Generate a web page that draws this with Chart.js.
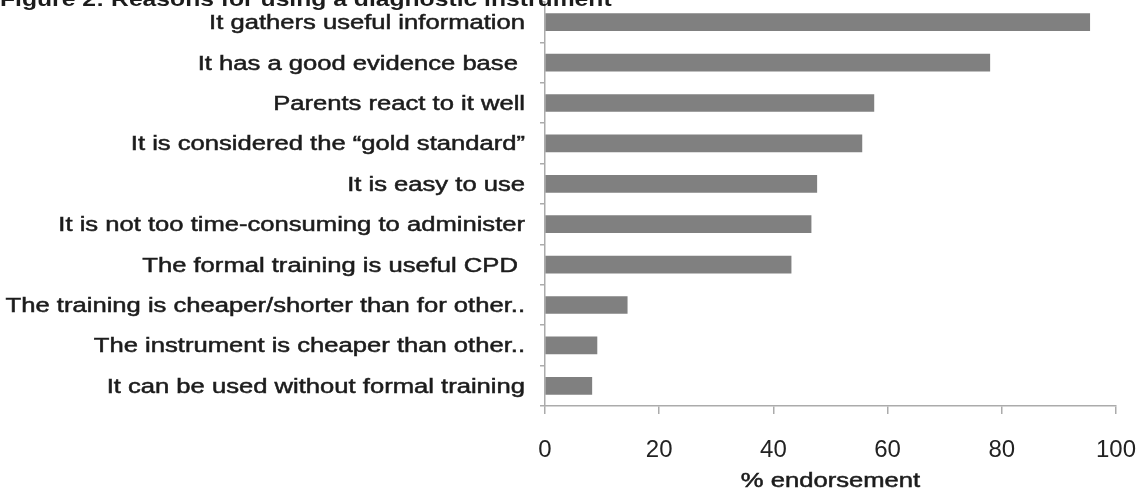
<!DOCTYPE html>
<html>
<head>
<meta charset="utf-8">
<script src="https://cdn.jsdelivr.net/npm/chart.js"></script>
<style>
  html, body { margin: 0; padding: 0; background: #fff; }
</style>
</head>
<body>
<canvas id="myChart" width="1141" height="490"></canvas>
<script>
const reasons = [
    'It gathers useful information',
    'It has a good evidence base ',
    'Parents react to it well',
    'It is considered the \u201cgold standard\u201d',
    'It is easy to use',
    'It is not too time-consuming to administer',
    'The formal training is useful CPD ',
    'The training is cheaper/shorter than for other..',
    'The instrument is cheaper than other..',
    'It can be used without formal training'
];
const endorsement = [95.4, 77.9, 57.6, 55.5, 47.6, 46.6, 43.1, 14.4, 9.1, 8.2];
const xTicks = [0, 20, 40, 60, 80, 100];
const chartTitle = 'Figure 2: Reasons for using a diagnostic instrument';
const xTitle = '% endorsement';

const axisGrey = '#ababab';
const WIDE = 1.28;   // the labels use a horizontally stretched face

function wideText(ctx, text, x, y, align, font, weight) {
    ctx.save();
    ctx.font = font;
    ctx.fillStyle = '#1c1c1c';
    ctx.strokeStyle = '#1c1c1c';
    ctx.lineWidth = weight;
    ctx.textAlign = align;
    ctx.textBaseline = 'alphabetic';
    ctx.translate(x, y);
    ctx.scale(WIDE, 1);
    ctx.fillText(text, 0, 0);
    if (weight > 0) ctx.strokeText(text, 0, 0);
    ctx.restore();
}

// category names, axis title and the figure caption
const textPlugin = {
    id: 'textPlugin',
    afterDraw(chart) {
        const ctx = chart.ctx;
        const y = chart.scales.y;
        const x = chart.scales.x;
        reasons.forEach((r, i) => {
            wideText(ctx, r, y.right - 20, y.getPixelForValue(i) + 7, 'right', '20px "Liberation Sans"', 0.5);
        });
        wideText(ctx, xTitle, (x.left + x.right) / 2, 487, 'center', '20px "Liberation Sans"', 0.5);
        wideText(ctx, chartTitle, 0, 6, 'left', 'bold 19.3px "Liberation Sans"', 0);
    }
};

var ctx = document.getElementById('myChart').getContext('2d');

var myChart = new Chart(ctx, {
    type: 'bar',
    data: {
        labels: reasons,
        datasets: [{
            data: endorsement,
            backgroundColor: '#808080',
            barThickness: 17
        }]
    },
    options: {
        indexAxis: 'y',
        responsive: false,
        animation: false,
        devicePixelRatio: 1,
        layout: { padding: { top: 2, right: 25, left: 0, bottom: 0 } },
        plugins: {
            legend: { display: false },
            tooltip: { enabled: false }
        },
        scales: {
            x: {
                min: 0,
                max: 100,
                afterBuildTicks: s => { s.ticks = xTicks.map(v => ({ value: v })); },
                afterFit: s => {
                    s.height = 84;
                    s.paddingLeft = 0;
                    s.paddingRight = 0;
                },
                ticks: {
                    padding: 22,
                    color: '#222',
                    font: { family: 'Liberation Sans', size: 24 }
                },
                grid: { drawOnChartArea: false, tickLength: 8, color: axisGrey, lineWidth: 1.5 },
                border: { color: axisGrey, width: 1.5 }
            },
            y: {
                afterFit: s => { s.width = 545; },
                ticks: { display: false },
                grid: { drawOnChartArea: false, offset: true, tickLength: 5, color: axisGrey, lineWidth: 1.5 },
                border: { color: axisGrey, width: 1.5 }
            }
        }
    },
    plugins: [textPlugin]
});
</script>
</body>
</html>
